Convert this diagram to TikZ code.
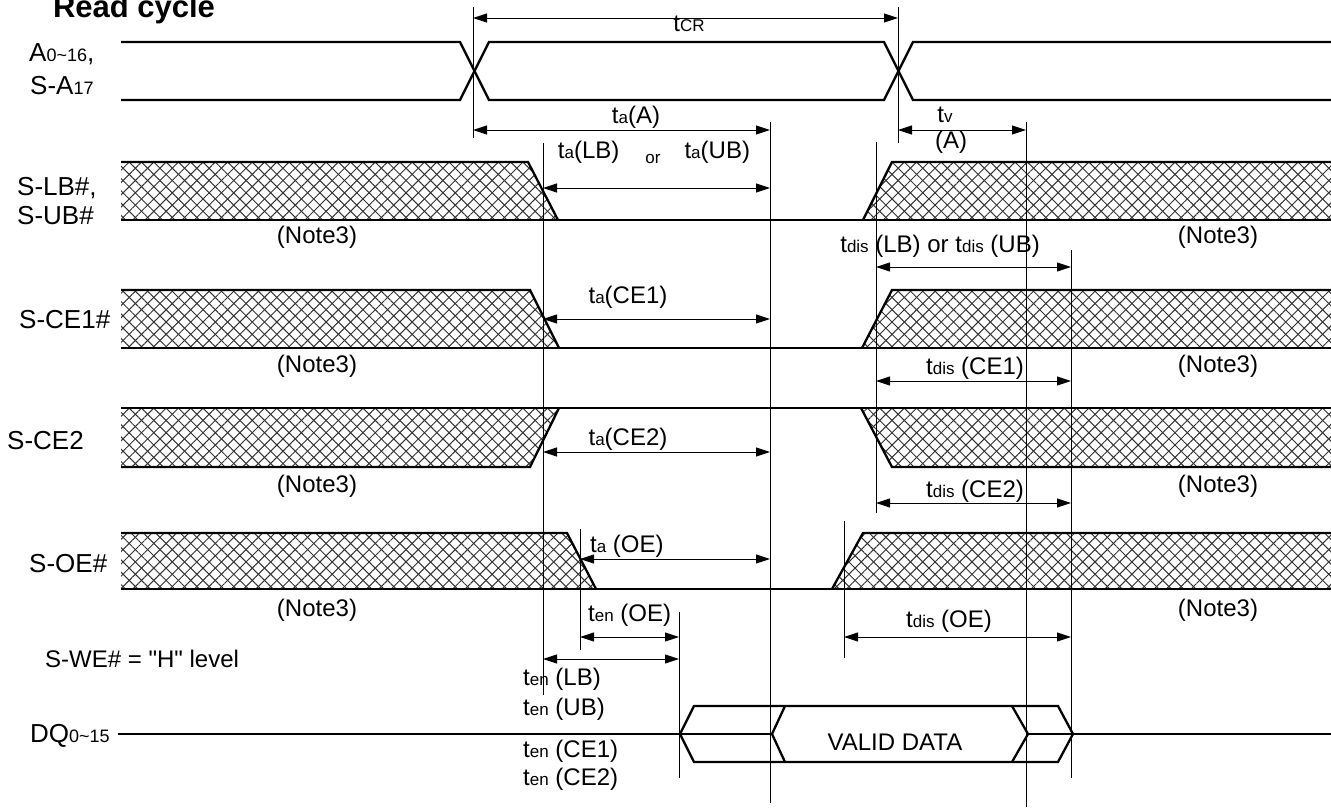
\documentclass[tikz,border=0pt]{standalone}
\usepackage{fontspec}
\setmainfont{Liberation Sans}
\usetikzlibrary{arrows.meta,patterns.meta}

% small letters after the t of a timing name
\newcommand{\sm}[1]{{\fontsize{17}{17}\selectfont #1}}
\newcommand{\smb}[1]{{\fontsize{18}{18}\selectfont #1}}

\tikzset{
  sig/.style={line width=2.3pt},
  guide/.style={line width=0.9pt},
  dim/.style={line width=0.9pt,{Triangle[length=14pt,width=9pt]}-{Triangle[length=14pt,width=9pt]}},
  xhatch/.style={pattern={Lines[angle=45,distance=8.7pt,line width=1pt]},pattern color=black!80,
    postaction={pattern={Lines[angle=-45,distance=8.7pt,line width=1pt]},pattern color=black!80}},
  lbl/.style={inner sep=0pt,font=\fontsize{24}{28}\selectfont,anchor=base},
  signame/.style={inner sep=0pt,font=\fontsize{26}{30}\selectfont,anchor=base west},
}

\begin{document}
\begin{tikzpicture}[x=1pt,y=-1pt]
    \useasboundingbox (0,0) rectangle (1331,808);

    \node[lbl,font=\bfseries\fontsize{31}{34}\selectfont] (title) at (134,18) {Read cycle};

    % Signal names
    \node[signame] (sa1) at (29,62) {A\smb{0\textasciitilde16},};
    \node[signame] (sa2) at (30,95) {S-A\smb{17}};
    \node[signame] (slb1) at (17,195) {S-LB\#,};
    \node[signame] (slb2) at (17,224) {S-UB\#};
    \node[signame] (sce1) at (19,328) {S-CE1\#};
    \node[signame] (sce2) at (7,449) {S-CE2};
    \node[signame] (soe) at (29,572) {S-OE\#};
    \node[lbl,anchor=base west] (swe) at (45,667) {S-WE\# = \textquotedbl H\textquotedbl{} level};
    \node[signame] (sdq) at (30,742) {DQ\smb{0\textasciitilde15}};

    % A0~16, S-A17
    \draw[sig] (121,42) -- (460,42) -- (489,100) -- (884,100) -- (913,42) -- (1331,42);
    \draw[sig] (121,100) -- (460,100) -- (489,42) -- (884,42) -- (913,100) -- (1331,100);

    % S-LB#, S-UB#
    \path[xhatch] (121,162) -- (528,162) -- (558,220) -- (121,220) -- cycle;
    \path[xhatch] (892,162) -- (1331,162) -- (1331,220) -- (863,220) -- cycle;
    \draw[sig] (121,162) -- (528,162) -- (558,220);
    \draw[sig] (863,220) -- (892,162) -- (1331,162);
    \draw[sig] (121,220) -- (1331,220);

    % S-CE1#
    \path[xhatch] (121,290) -- (530,290) -- (559,348) -- (121,348) -- cycle;
    \path[xhatch] (892,290) -- (1331,290) -- (1331,348) -- (862,348) -- cycle;
    \draw[sig] (121,290) -- (530,290) -- (559,348);
    \draw[sig] (862,348) -- (892,290) -- (1331,290);
    \draw[sig] (121,348) -- (1331,348);

    % S-CE2
    \path[xhatch] (121,408) -- (559,408) -- (530,467) -- (121,467) -- cycle;
    \path[xhatch] (861,408) -- (1331,408) -- (1331,467) -- (892,467) -- cycle;
    \draw[sig] (121,408) -- (1331,408);
    \draw[sig] (121,467) -- (530,467) -- (559,408);
    \draw[sig] (861,408) -- (892,467) -- (1331,467);

    % S-OE#
    \path[xhatch] (121,533) -- (567,533) -- (596,589) -- (121,589) -- cycle;
    \path[xhatch] (863,533) -- (1331,533) -- (1331,589) -- (832,589) -- cycle;
    \draw[sig] (121,533) -- (567,533) -- (596,589);
    \draw[sig] (832,589) -- (863,533) -- (1331,533);
    \draw[sig] (121,589) -- (1331,589);

    % DQ0~15
    \draw[sig] (118,734) -- (772,734);
    \draw[sig] (680,734) -- (694,706) -- (1058,706) -- (1073,734) -- (1058,762) -- (694,762) -- cycle;
    \draw[sig] (785,706) -- (772,734) -- (785,762);
    \draw[sig] (1012,706) -- (1028,734) -- (1012,762);
    \draw[sig] (1028,734) -- (1331,734);
    \node[lbl] (valid) at (895,750) {VALID DATA};

    % Guide lines
    \foreach \n/\x/\ya/\yb in {g1/473/7/138, g2/898/7/143, g3/770/122/803, g4/543/143/695,
        g5/876/142/513, g6/1026/122/807, g7/1071/250/778, g8/580/529/650,
        g9/844/521/658, g10/679/612/778} {
      \coordinate (\n-t) at (\x,\ya);
      \coordinate (\n-b) at (\x,\yb);
      \draw[guide] (\n-t) -- (\n-b);
    }

    % Timing arrows
    \foreach \n/\xa/\xb/\y in {tcr/473/898/18, taa/473/770/130, tva/898/1026/130,
        talb/543/770/188, tdlb/876/1071/267, tace1/543/770/319, tdce1/876/1071/381,
        tace2/543/770/452, tdce2/876/1071/503, taoe/580/770/559, tenoe/580/679/637,
        tdoe/844/1071/637, tenlb/543/679/659} {
      \coordinate (\n-l) at (\xa,\y);
      \coordinate (\n-r) at (\xb,\y);
      \draw[dim] (\n-l) -- (\n-r);
    }

    % Timing names
    \node[lbl] (ltcr) at (689,32) {t\sm{CR}};
    \node[lbl] (ltaa) at (636,123) {t\sm{a}(A)};
    \node[lbl] (ltalb) at (654,158) {t\sm{a}(LB)\hspace{26pt}\raisebox{-5pt}{\sm{or}}\hspace{24pt}t\sm{a}(UB)};
    \node[lbl] (ltv) at (945,122) {t\sm{v}};
    \node[lbl] (ltva) at (951,148) {(A)};
    \node[lbl,anchor=base east] (ltdlb) at (1040,252) {t\sm{dis} (LB) or t\sm{dis} (UB)};
    \node[lbl] (ltace1) at (628,303) {t\sm{a}(CE1)};
    \node[lbl] (ltdce1) at (975,374) {t\sm{dis} (CE1)};
    \node[lbl] (ltace2) at (628,445) {t\sm{a}(CE2)};
    \node[lbl] (ltdce2) at (975,497) {t\sm{dis} (CE2)};
    \node[lbl,anchor=base west] (ltaoe) at (590,552) {t\sm{a} (OE)};
    \node[lbl,anchor=base west] (ltenoe) at (588,621) {t\sm{en} (OE)};
    \node[lbl] (ltdoe) at (949,627) {t\sm{dis} (OE)};
    \node[lbl,anchor=base west] (ltenlb) at (523,685) {t\sm{en} (LB)};
    \node[lbl,anchor=base west] (ltenub) at (523,715) {t\sm{en} (UB)};
    \node[lbl,anchor=base west] (ltence1) at (523,757) {t\sm{en} (CE1)};
    \node[lbl,anchor=base west] (ltence2) at (523,785) {t\sm{en} (CE2)};

    % Notes
    \foreach \y [count=\i] in {243,372,492,616} {
      \node[lbl] (nl\i) at (317,\y) {(Note3)};
      \node[lbl] (nr\i) at (1218,\y) {(Note3)};
    }
\end{tikzpicture}
\end{document}
